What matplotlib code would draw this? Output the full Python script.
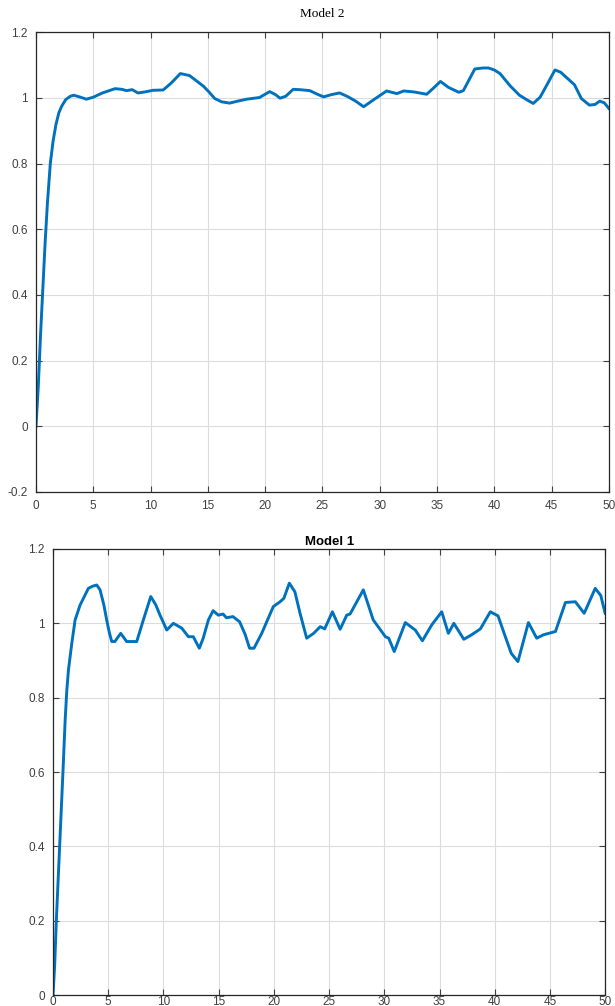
import matplotlib
matplotlib.use("Agg")
import matplotlib.pyplot as plt

# ---- Model 2 (top) ----
t2 = [0, 0.2, 0.4, 0.6, 0.8, 1.0, 1.25, 1.5, 1.75, 2.0, 2.25, 2.6, 3.0, 3.3, 3.8, 4.4,
      5.0, 5.8, 6.9, 7.5, 7.9, 8.4, 8.9, 9.5, 10.2, 11.1, 11.8, 12.6, 13.4, 14.0, 14.6,
      15.1, 15.6, 16.2, 16.9, 17.6, 18.4, 19.5, 20.4, 20.9, 21.3, 21.8, 22.45, 23.0, 23.9,
      24.5, 25.1, 25.8, 26.5, 27.2, 27.9, 28.6, 29.5, 30.6, 31.5, 32.1, 33.0, 34.1, 34.7,
      35.3, 36.0, 36.9, 37.3, 37.8, 38.3, 39.0, 39.5, 40.0, 40.5, 41.4, 42.2, 42.8, 43.4,
      44.0, 44.6, 45.3, 45.8, 46.3, 47.0, 47.6, 48.3, 48.8, 49.2, 49.6, 50.0]
y2 = [0.0, 0.12, 0.28, 0.42, 0.56, 0.68, 0.80, 0.87, 0.92, 0.955, 0.975, 0.995, 1.005, 1.008, 1.003, 0.996,
      1.002, 1.015, 1.028, 1.026, 1.022, 1.025, 1.015, 1.018, 1.023, 1.024, 1.045, 1.074, 1.068, 1.052, 1.036,
      1.018, 0.998, 0.988, 0.984, 0.990, 0.996, 1.001, 1.019, 1.010, 0.999, 1.005, 1.026, 1.025, 1.022,
      1.012, 1.003, 1.010, 1.015, 1.004, 0.990, 0.973, 0.995, 1.021, 1.013, 1.021, 1.018, 1.011, 1.030,
      1.050, 1.032, 1.017, 1.022, 1.055, 1.088, 1.091, 1.091, 1.085, 1.074, 1.036, 1.008, 0.995, 0.983,
      1.002, 1.040, 1.085, 1.078, 1.062, 1.040, 0.998, 0.978, 0.980, 0.990, 0.985, 0.968]

# ---- Model 1 (bottom) ----
t1 = [0, 0.15, 0.3, 0.6, 0.9, 1.1, 1.25, 1.4, 1.7, 2.0, 2.45, 2.8, 3.2, 3.6, 3.96, 4.26,
      4.6, 4.86, 5.1, 5.32, 5.6, 6.13, 6.67, 7.58, 8.18, 8.85, 9.3, 9.69, 10.3, 10.9, 11.66,
      12.26, 12.7, 13.25, 13.6, 14.07, 14.5, 14.97, 15.4, 15.7, 16.3, 16.9, 17.4, 17.8, 18.2,
      18.9, 19.35, 19.95, 20.56, 20.9, 21.4, 21.9, 22.37, 22.97, 23.6, 24.2, 24.6, 25.3, 26.0,
      26.6, 26.9, 28.1, 29.0, 30.1, 30.4, 30.9, 31.9, 32.8, 33.45, 34.3, 35.2, 35.8, 36.3,
      37.2, 37.9, 38.7, 39.6, 40.3, 40.9, 41.5, 42.1, 43.05, 43.8, 44.4, 45.5, 46.4, 47.3,
      48.1, 49.1, 49.6, 50.0]
y1 = [0.0, 0.08, 0.20, 0.40, 0.60, 0.74, 0.82, 0.875, 0.946, 1.009, 1.049, 1.070, 1.094, 1.100, 1.103, 1.090,
      1.050, 1.009, 0.975, 0.951, 0.951, 0.973, 0.951, 0.951, 1.009, 1.072, 1.050, 1.022, 0.982, 1.0, 0.987,
      0.964, 0.964, 0.933, 0.960, 1.009, 1.034, 1.022, 1.025, 1.015, 1.018, 1.004, 0.970, 0.933, 0.933,
      0.973, 1.004, 1.045, 1.058, 1.067, 1.108, 1.085, 1.027, 0.960, 0.973, 0.991, 0.985, 1.031, 0.984,
      1.022, 1.025, 1.090, 1.009, 0.964, 0.960, 0.924, 1.002, 0.982, 0.953, 0.996, 1.031, 0.973, 1.0,
      0.957, 0.969, 0.985, 1.031, 1.020, 0.969, 0.919, 0.897, 1.002, 0.960, 0.969, 0.978, 1.056, 1.058,
      1.027, 1.094, 1.075, 1.027]

xticks = list(range(0, 51, 5))
yticks2 = [-0.2, 0, 0.2, 0.4, 0.6, 0.8, 1.0, 1.2]
yticks1 = [0, 0.2, 0.4, 0.6, 0.8, 1.0, 1.2]

def fmt(v):
    s = ("%g" % v)
    return "0" if s in ("-0", "0") else s

blue = "#0072BD"
tickcol = "#404040"
plt.rcParams["font.family"] = ["Liberation Sans", "DejaVu Sans"]

fig = plt.figure(figsize=(6.15, 10.06), dpi=100)
ax2 = fig.add_axes([0.0585, 0.511, 0.9315, 0.457])
ax1 = fig.add_axes([0.0862, 0.0109, 0.8978, 0.4434])

def style(ax, yt, xpad):
    ax.set_xlim(0, 50)
    ax.set_ylim(yt[0], yt[-1])
    ax.set_xticks(xticks)
    ax.set_xticklabels([str(v) for v in xticks])
    ax.set_yticks(yt)
    ax.set_yticklabels([fmt(v) for v in yt])
    ax.grid(True, color="#dcdcdc", linewidth=0.8)
    ax.set_axisbelow(True)
    ax.tick_params(direction="in", top=True, right=True, length=4, width=0.8,
                   labelsize=8.5, colors=tickcol, pad=6)
    ax.tick_params(axis="x", pad=xpad)
    for sp in ax.spines.values():
        sp.set_color("#262626")
        sp.set_linewidth(0.9)

ax2.plot(t2, y2, color=blue, linewidth=2.1)
style(ax2, yticks2, 6)
ax2.set_title("Model 2", family=["Liberation Serif", "DejaVu Serif"], fontsize=9.5, pad=11)

ax1.plot(t1, y1, color=blue, linewidth=2.1)
style(ax1, yticks1, 1)
ax1.set_title("Model 1", fontweight="bold", fontsize=9.5, pad=3)

fig.savefig("out.png", dpi=100)
